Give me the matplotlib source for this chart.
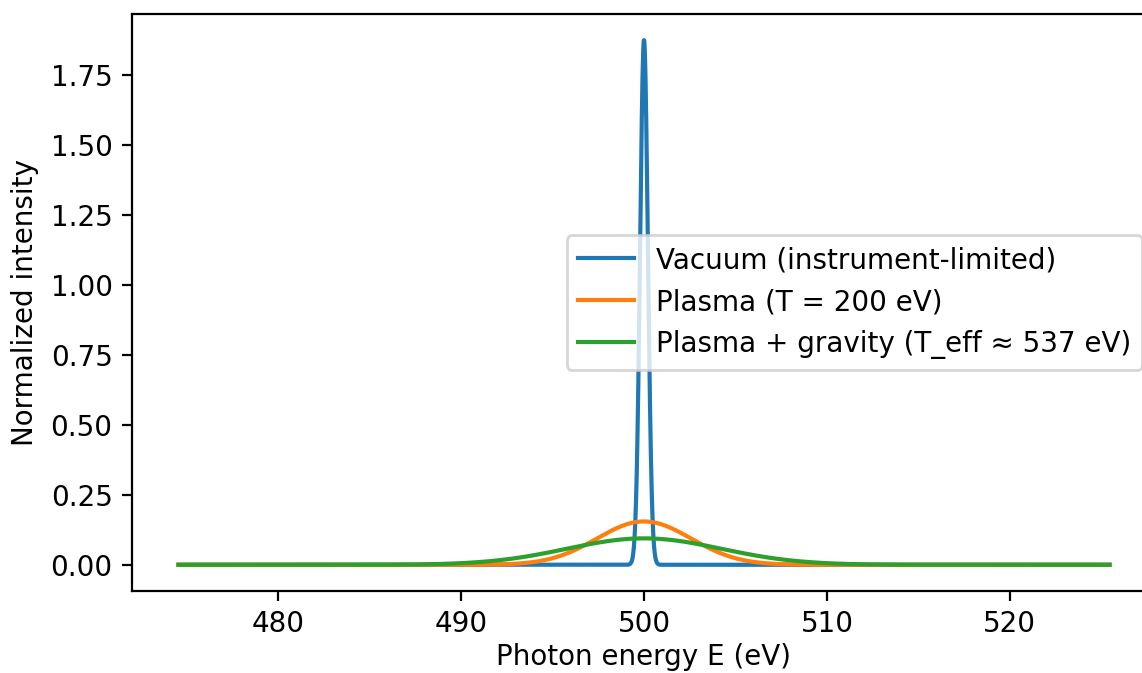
import numpy as np
import matplotlib
matplotlib.use("Agg")
import matplotlib.pyplot as plt

# line profiles
E0 = 500.0                      # line centre (eV)
E_range = [474.55, 525.45]      # plotted energy window (eV)
labels = ["Vacuum (instrument-limited)",
          "Plasma (T = 200 eV)",
          "Plasma + gravity (T_eff \u2248 537 eV)"]
peaks = [1.877, 0.155, 0.0945]  # peak heights of the normalized profiles
colors = ["#1f77b4", "#ff7f0e", "#2ca02c"]

W, H, dpi = 1142, 673, 200
fig = plt.figure(figsize=(W / dpi, H / dpi), dpi=dpi)
# axes runs past the right edge, as in the reference crop
ax = fig.add_axes([132 / W, 1 - 591 / H, (1156 - 132) / W, (591 - 14) / H])

E = np.linspace(E_range[0], E_range[1], 4000)
for lab, pk, c in zip(labels, peaks, colors):
    sigma = 1.0 / (pk * np.sqrt(2 * np.pi))   # unit-area gaussian
    prof = np.exp(-0.5 * ((E - E0) / sigma) ** 2) / (sigma * np.sqrt(2 * np.pi))
    ax.plot(E, prof, color=c, lw=1.5, label=lab)

ax.spines["right"].set_visible(False)
ax.set_xlabel("Photon energy E (eV)", labelpad=1.5)
ax.set_ylabel("Normalized intensity")
ax.legend(loc="center right")

fig.savefig("out.png", dpi=dpi)
